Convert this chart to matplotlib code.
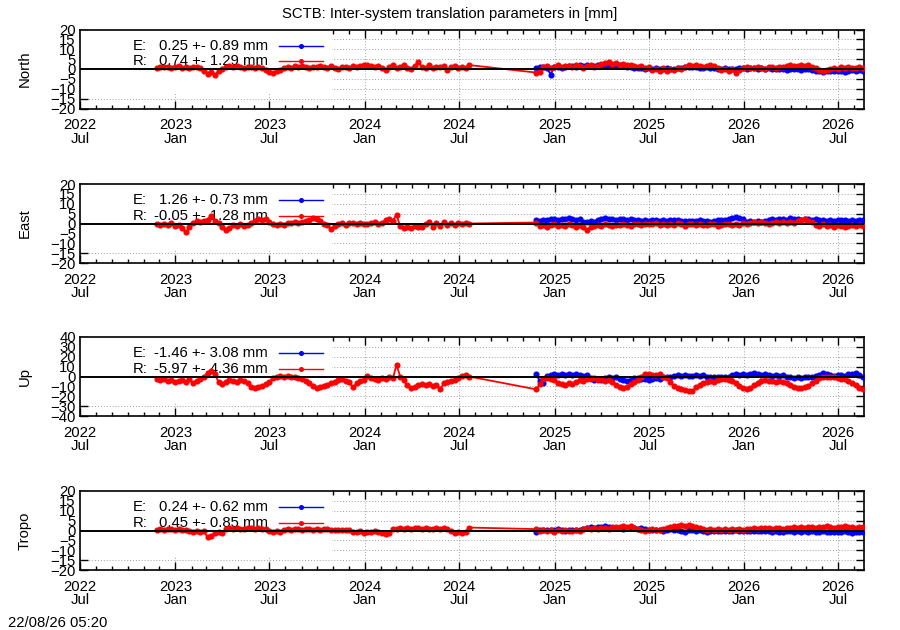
import numpy as np
import matplotlib
matplotlib.use('Agg')
import matplotlib.pyplot as plt
import matplotlib.dates as mdates
from matplotlib.patches import Rectangle

plt.rcParams['font.family'] = ['Liberation Sans', 'DejaVu Sans']
plt.rcParams['font.size'] = 10.7

# weekly samples
seg1_start, seg1_len = '2022-11-26', 87
seg2_start, seg2_len = '2024-11-26', 91

north_r1 = [0.5, 1.0, 0.8, 1.2, 0.6, 1.0, 1.4, 0.7, 1.1, 0.5, 0.9, 1.2, 0.3,
            -1.0, -2.5, -1.5, -3.0, -1.0, 0.2,
            0.8, 1.3, 0.9, 1.5, 1.1, 0.7, 1.2, 1.0, 0.6, 0.9, 0.4, -0.5,
            -1.5, -2.2, -1.0, -0.3, 0.5,
            1.0, 0.6, 1.3, 0.8, 1.5, 1.1, 0.4, 1.2, 0.9, 1.6, 1.0, 0.5, 1.3, 0.7, 0.2,
            0.8, 1.1, 0.6, 1.4, 0.9, 1.7, 2.2, 1.8,
            1.4, 0.8, 1.6, 0.5, -0.5, 1.0, 1.8, 0.4, 1.2, 2.0, 0.7, 0.2, 1.5, 3.5,
            1.0, 0.6, 1.9, 0.3, 1.2, 0.8, 1.4, -0.3, 0.9, 1.6, 0.5, 1.1, 0.7, 2.0]
north_r2 = [-1.8, -1.5, 1.0, 1.5, 0.3, 1.2, 1.8, 0.8, 1.4,
            1.6, 1.0, 1.9, 1.3, 0.7, 1.5, 2.0, 1.2, 1.7,
            2.3, 2.8, 3.5, 2.6, 3.2, 2.0, 2.7, 1.8, 2.2,
            1.3, 0.8, 1.4, 0.6, 1.0,
            -0.5, 0.2, -1.2, 0.4, -0.8, 0.1, -0.3, 0.6, 0.2,
            1.2, 1.8, 1.4, 2.1, 1.6, 1.0, 1.5, 1.9, 1.3, 0.5,
            -0.3, 0.2, -0.8, 0.1, -2.2, -0.5,
            0.4, 0.9, 0.3, 0.7, 1.0, 0.5, 0.2, 0.8, 1.1, 0.6, 0.9, 1.2,
            1.5, 1.9, 1.3, 1.7, 2.2, 1.4, 1.8, 1.1, 0.5,
            -0.6, -1.2, -0.4, 0.2,
            0.6, 0.2, 0.8, 0.4, 1.0, 0.3, 0.7, 0.9, 0.5]
north_e2 = [0.5, 0.8, 1.0, 0.6, -2.8, 0.9, 1.2, 0.7, 1.0,
            1.3, 1.6, 1.1, 1.8, 1.4, 2.0, 1.7, 1.5, 1.9,
            2.0, 1.6, 2.2, 1.8, 1.5, 1.9, 1.4, 1.2, 1.0,
            0.6, 0.3, 0.5, 0.1, 0.4,
            0.0, 0.3, -0.2, 0.2, 0.5, 0.1, -0.1, 0.4, 0.6,
            0.9, 1.2, 0.8, 1.0, 0.7, 0.5, 0.9, 0.6, 0.4, 0.2,
            0.0, 0.3, -0.1, 0.2, 0.0, 0.3,
            0.5, 0.2, 0.6, 0.3, 0.1, 0.4, 0.0, 0.5, 0.2, -0.2, 0.1, 0.0,
            -0.3, 0.2, -0.1, 0.0, -0.4, 0.1, -0.2, -0.5, -0.8,
            -1.0, -1.3, -0.9, -1.1,
            -0.8, -1.2, -0.9, -1.4, -1.0, -0.7, -1.1, -0.6, -0.9]

east_r1 = [-0.5, -1.0, -0.3, -0.8, 0.2, -1.2, -0.6,
           -2.5, -4.5, -2.0,
           0.5, 1.2, 0.8, 1.5,
           2.0, 3.8, 1.5, 0.5,
           -2.0, -3.5, -2.5, -1.0,
           -1.2, -0.5, -1.5, -0.8, 0.2,
           1.5, 2.2, 1.8, 2.5, 1.0,
           -0.5, -1.0, -0.3, -0.8,
           0.5, 0.2, 0.9, 0.4, 0.7, 1.2,
           2.0, 2.8, 2.3, 1.5,
           -0.5, -0.8, -2.8, -1.2, -0.3, 0.2, -0.6, 0.1,
           0.3, -0.2, 0.5, 0.0, -0.4, 0.2, 0.6, -0.1, 0.4,
           1.8, 2.2, 1.5, 4.5,
           -1.5, -2.2, -1.8, -2.5, -1.2, -2.0, -1.6,
           -0.5, 1.0, -1.8, 0.3, -1.2, 0.8, -0.6, 0.2, -1.0, 0.5, -0.3, 0.4, 0.0]
east_r2 = [0.5, -1.5, -0.8, -1.8,
           -1.0, -0.5, -1.5, -0.8, -1.2, -0.3, -1.0, -1.6, -0.7,
           -2.0, -3.5, -1.8, -1.2,
           -0.8, -1.2, -0.5, -1.0, -1.4, -0.6, -0.9, -0.3, -0.8, -1.1, -0.5, -0.2, -0.7, -0.4,
           0.0, -0.5, 0.2, -0.8, -0.3, -1.0, -0.2, -0.6, 0.1, -0.4, -1.2, -0.5, 0.0, -0.8,
           -0.3, -0.6, -1.0, -0.2, -0.5, -1.4, -0.7, 0.0, -0.4, -0.9, -0.3, -0.6, 0.1, -0.2,
           0.3, 0.6, 0.1, 0.8, 0.4, -0.2, 0.5, 0.9, 0.2, 0.7, 0.3, 1.0, 0.5, 1.2, 1.8, 2.4, 1.5, 0.8,
           -0.8, -1.2, -0.5, -1.5, -1.0, -1.8, -0.7, -1.3, -2.0, -1.1, -0.6, -1.5, -0.9, -1.2]
east_e2 = [1.7, 1.4, 2.0, 1.6,
           2.2, 2.5, 2.0, 2.4, 2.1, 2.6, 2.2, 1.8, 2.3,
           1.0, 0.8, 1.2, 1.0,
           2.0, 2.3, 2.6, 2.1, 2.4, 2.0, 2.5, 2.2, 1.9, 2.3,
           1.6, 1.9, 1.5, 1.8, 1.4, 1.7, 2.0, 1.5, 1.8, 1.3, 1.7, 1.6, 1.9, 1.5,
           1.3, 1.5, 1.1, 1.4, 1.6, 1.2, 1.5, 1.0, 1.3,
           1.6, 2.0, 1.8, 2.4, 2.8, 3.4, 3.0, 2.2,
           1.0, 1.3, 0.8, 1.1, 0.9, 1.4,
           2.0, 2.3, 1.9, 2.5, 2.2, 2.0, 2.6, 2.1, 2.4, 1.8, 2.2, 2.5, 2.0, 2.3,
           1.6, 1.9, 1.4, 1.8, 1.5, 1.7, 2.0, 1.6, 1.3, 1.8, 1.5, 1.9, 1.6]

up_r1 = [-3, -4, -3, -5, -4, -6, -5, -4, -6, -3, -7, -5, -3, 0, 4, 6, 3,
         -6, -8, -6, -4, -5, -6, -4, -5, -7, -11, -12, -11, -10, -8, -6, -2,
         0, 1, 0, 1, -1, 0, -2, -3, -5, -7, -10, -12, -11, -10, -9, -7, -6,
         -4, -3, -5, -6, -11, -7, -5, -4, 1, -2, -3, -4, -2, -3, -1, -2, 12,
         0, -4, -9, -12, -11, -9, -8, -9, -8, -10, -9, -13, -7, -6, -5, -4,
         -2, 1, 2, 0]
up_r2 = [-13, -8, -3, -2, -3, -4, -7, -8, -9, -7, -8, -6, -4, -5, -3, -3,
         -2, -4, -3, -5, -4, -6, -9, -11, -12, -11, -8, -6, -4, 0, 3, 3, 2,
         2, 3, 0, -2, -6, -10, -12, -13, -14, -15, -15, -11, -9, -7, -6, -5,
         -6, -4, -3, -3, -4, -5, -7, -10, -12, -13, -12, -9, -7, -5, -4, -5,
         -5, -6, -5, -6, -7, -9, -11, -12, -12, -11, -10, -7, -5, -2, -1, 0,
         -1, -1, -2, -3, -3, -5, -7, -9, -12, -13]
up_e2 = [3, -5, -7, 1, 2, 3, 2, 3, 2, 3, 2, 3, 2, 1, 2, -2, -4, -3, -4, -2,
         -1, -2, -1, -3, -4, -5, -4, -2, -2, -3, -3, -4, -3, -2, -3, -1, 0,
         0, 1, 2, 1, 2, 1, 1, 2, 1, 2, 0, -1, 0, -1, 0, -1, 0, 2, 3, 2, 3,
         2, 3, 4, 3, 2, 3, 2, 1, 2, 1, 2, 0, -1, -2, -1, -2, -1, 0, -1, 1,
         2, 4, 3, 2, 1, 2, 2, 1, 3, 3, 4, 2, 0]

tropo_r1 = [0.5, 0.8, 0.3, 0.6, 0.9, 0.4, 0.7, 0.2, 0.5,
            -0.3, -0.6, -0.2, -0.8, -0.5,
            -3.5, -2.8,
            -1.5, -1.0, -1.2,
            0.8, 1.2, 0.9, 1.4, 1.0, 0.7, 1.3, 1.1, 0.8, 1.2, 0.9, 0.6,
            -0.4, -0.8, -0.3, -0.6,
            0.5, 0.8, 0.4, 0.9, 0.6, 0.3, 0.7, 1.0, 0.5, 0.8, 0.4, 0.6, 0.9, 0.5,
            0.2, 0.4, 0.1, 0.3, 0.2,
            -0.6, -0.9, -0.5, -1.2, -0.7, -1.0, -0.4, -0.8, -1.1,
            -2.0, -1.5,
            0.6, 1.0, 1.3, 0.8, 1.2, 0.9, 1.4, 1.1, 0.7, 1.2, 1.0, 0.8, 1.3, 0.9, 1.1, 0.6,
            -0.5, -1.2, -0.8, -1.5, -0.6, 1.5]
tropo_r2 = [0.7, -0.5, 0.2, -0.3, 0.5, -0.6, 0.1, -0.2, 0.4, -0.4, 0.0, 0.3, -0.1,
            0.8, 1.2, 0.9, 1.3, 0.7, 1.1, 1.4, 1.0, 1.6,
            2.0, 1.8, 2.3, 1.9, 2.2, 1.5,
            0.6, 0.3, -0.5, 0.4, 0.8, 0.5, 0.2, 0.7, 1.2,
            2.0, 2.4, 2.1, 2.6, 2.2, 2.9, 2.5, 1.8, 1.2,
            0.6, 0.3, 0.8, 0.4, 0.7, 0.2, 0.9, 0.5, 0.6, 0.3, 0.8, 0.4, 0.7, 1.0,
            1.2, 0.9, 1.4, 1.1, 1.3, 0.8, 1.5, 1.2, 1.0, 1.4, 1.1, 1.6, 1.3,
            1.8, 1.5, 2.0, 1.7, 1.4, 1.9, 1.6, 2.1, 1.8, 1.5, 1.9, 1.7, 2.2, 1.6, 1.8, 1.4, 2.0, 1.7]
tropo_e2 = [-1.0, 0.3, 0.5, 0.2, 0.4, 0.1, 0.6, 0.3, 0.0, 0.4, 0.2, 0.5, 0.3,
            1.0, 1.4, 1.8, 1.5, 2.0, 1.7, 2.1, 1.6, 1.3,
            1.2, 1.5, 1.0, 1.3, 1.1, 1.4, 0.9, 1.2, 1.0,
            0.3, 0.5, 0.2, 0.4, 0.0, 0.3, 0.6, 0.2, 0.4, -0.2, -0.9, 0.1, 0.3, 0.0, 0.2,
            -0.3, -1.0, -0.1, -0.4, 0.0, -0.2, -0.5, -0.1, -0.3, 0.1, -0.2, -0.4, 0.0, -0.3, -0.1, -0.5, -0.2,
            -0.5, -0.3, -0.7, -0.4, -0.6, -0.8, -0.5, -0.3, -0.6, -0.4, -0.7, -0.5, -0.9, -0.4, -0.6,
            -0.7, -0.5, -0.9, -0.6, -0.8, -1.0, -0.7, -0.5, -0.8, -1.1, -0.6, -0.9, -0.7]

panel_names = ['North', 'East', 'Up', 'Tropo']
panel_limits = [20, 20, 40, 20]
panel_steps = [5, 5, 10, 5]
e_stats = [(0.25, 0.89), (1.26, 0.73), (-1.46, 3.08), (0.24, 0.62)]
r_stats = [(0.74, 1.29), (-0.05, 1.28), (-5.97, 4.36), (0.45, 0.85)]
red_series = [(north_r1, north_r2), (east_r1, east_r2), (up_r1, up_r2), (tropo_r1, tropo_r2)]
blue_series = [north_e2, east_e2, up_e2, tropo_e2]

tick_dates = ['2022-07-01', '2023-01-01', '2023-07-01', '2024-01-01', '2024-07-01',
              '2025-01-01', '2025-07-01', '2026-01-01', '2026-07-01']
tick_labels = ['2022\nJul', '2023\nJan', '2023\nJul', '2024\nJan', '2024\nJul',
               '2025\nJan', '2025\nJul', '2026\nJan', '2026\nJul']

dates1 = np.datetime64(seg1_start) + np.arange(seg1_len) * 7
dates2 = np.datetime64(seg2_start) + np.arange(seg2_len) * 7
red_dates = np.concatenate([dates1, dates2])

fig = plt.figure(figsize=(9, 6.3), dpi=100)
W, H = 900, 630
panel_tops = [29.5, 184, 337, 491]
ph = 79
ms = 3.4

for k, name in enumerate(panel_names):
    ax = fig.add_axes([80 / W, 1 - (panel_tops[k] + ph) / H, 784 / W, ph / H])
    lim, step = panel_limits[k], panel_steps[k]
    ax.set_xlim(np.datetime64('2022-07-01'), np.datetime64('2026-08-20'))
    ax.set_ylim(-lim, lim)
    ax.set_yticks(np.arange(-lim, lim + 1, step))
    ax.set_xticks([np.datetime64(d) for d in tick_dates])
    ax.set_xticklabels(tick_labels, linespacing=0.95)
    ax.xaxis.set_minor_locator(mdates.MonthLocator())
    ax.tick_params(which='both', direction='in', top=True, right=True, width=1)
    ax.tick_params(which='major', length=5.5)
    ax.tick_params(which='minor', length=3)
    ax.tick_params(axis='x', pad=7)
    ax.tick_params(axis='y', pad=3)
    for sp in ax.spines.values():
        sp.set_linewidth(1.2)

    ax.set_axisbelow(True)
    ax.grid(True, which='major', color='#a0a0a0', linestyle=(0, (1, 2)), linewidth=0.7)

    # opaque key box
    ax.add_patch(Rectangle((0, 0.18), 0.321, 0.82, transform=ax.transAxes,
                           facecolor='white', edgecolor='none', zorder=1))

    ax.axhline(0, color='black', linewidth=1.4, zorder=5)

    r1, r2 = red_series[k]
    ax.plot(dates2, blue_series[k], '-o', color='#0000ff', linewidth=1.3,
            markersize=ms, zorder=3)
    ax.plot(red_dates, list(r1) + list(r2), '-o', color='#ff0000', linewidth=1.3,
            markersize=ms, zorder=4)

    # key entries
    for row, (lab, st, col) in enumerate([('E:', e_stats[k], '#0000ff'),
                                          ('R:', r_stats[k], '#ff0000')]):
        yy = 0.795 - row * 0.195
        ax.text(0.0676, yy, lab, transform=ax.transAxes, ha='left', va='center',
                zorder=2)
        ax.text(0.2398, yy, f'{st[0]:.2f} +- {st[1]:.2f} mm', transform=ax.transAxes,
                ha='right', va='center', zorder=2)
        ax.plot([0.254, 0.310], [yy, yy], color=col, linewidth=1,
                transform=ax.transAxes, clip_on=False, zorder=2)
        ax.plot([0.282], [yy], 'o', color=col, markersize=2.6,
                transform=ax.transAxes, clip_on=False, zorder=2)

    ax.set_ylabel(name)
    ax.yaxis.set_label_coords(-0.0616, 0.5)

fig.text(0.5, 1 - 14 / H, 'SCTB: Inter-system translation parameters in [mm]',
         ha='center', va='center')
fig.text(8 / W, 1 - 623 / H, '22/08/26 05:20', ha='left', va='center')

fig.savefig('out.png', dpi=100)
